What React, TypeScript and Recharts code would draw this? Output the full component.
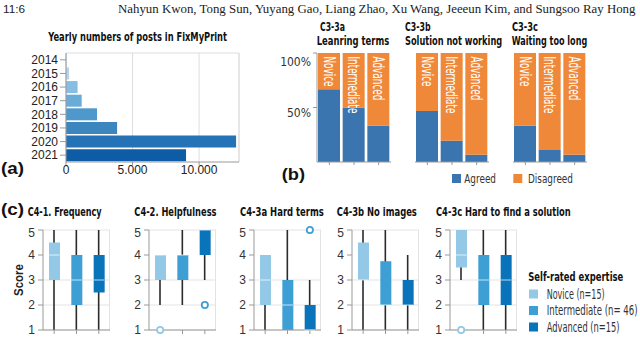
import {
  Bar,
  BarChart,
  CartesianGrid,
  Cell,
  ComposedChart,
  LabelList,
  Scatter,
  XAxis,
  YAxis,
} from 'recharts'

// (a) yearly posts
const YEARS = ['2014', '2015', '2016', '2017', '2018', '2019', '2020', '2021']
const POSTS = [60, 230, 870, 1180, 2330, 3840, 12780, 9020]
const POST_TICKS = [0, 5000, 10000]

// (b) share of "agreed" answers per expertise level
const LEVELS = ['Novice', 'Intermediate', 'Advanced']
const AGREED_TERMS = [0.667, 0.5, 0.333]
const AGREED_SOLUTION = [0.467, 0.196, 0.067]
const AGREED_WAITING = [0.333, 0.109, 0.067]

// (c) box stats per level: [min, q1, median, q3, max]
const FREQUENCY = [[1, 3, 4, 4.5, 5], [1, 2, 3, 4, 5], [1, 2.5, 3, 4, 5]]
const FREQUENCY_OUT = [null, null, null]
const HELPFULNESS = [[2, 3, 4, 4, 4], [2, 3, 4, 4, 5], [3, 4, 5, 5, 5]]
const HELPFULNESS_OUT = [1, null, 2]
const HARD_TERMS = [[1, 2, 3, 4, 4], [1, 1, 2, 3, 5], [1, 1, 1, 2, 3]]
const HARD_TERMS_OUT = [null, null, 5]
const NO_IMAGES = [[1, 3, 3, 4.5, 5], [1, 2, 2, 3.75, 5], [1, 2, 2, 3, 4]]
const NO_IMAGES_OUT = [null, null, null]
const FIND_SOLUTION = [[3, 3.5, 4, 5, 5], [1, 2, 3, 4, 5], [1, 2, 3, 4, 5]]
const FIND_SOLUTION_OUT = [1, null, null]
const SCORE_TICKS = [1, 2, 3, 4, 5]

const YEAR_COLORS = ['#c9e1f3', '#b3d4ed', '#86bde2', '#6aacd8', '#4f98cb', '#3c86c0', '#2473b6', '#0d5ca5']
const LEVEL_COLORS = ['#93c9e7', '#3d9fd4', '#0a74bb']
const OUTLIER_COLORS = ['#93c9e7', '#3d9fd4', '#3d9fd4']
const AGREED_COLOR = '#3b75af'
const DISAGREED_COLOR = '#f0883a'

const COND = "'DejaVu Sans Condensed', sans-serif"
const SANS = "'Liberation Sans', Arial, sans-serif"
const BAR_LABEL_LEN: Record<string, number> = { Novice: 30, Intermediate: 57, Advanced: 44 }

// the reference font is much narrower than anything installed, so squeeze text horizontally
let measureCtx: CanvasRenderingContext2D | null = null
function textWidth(text: string, font: string) {
  if (!measureCtx) measureCtx = document.createElement('canvas').getContext('2d')
  if (!measureCtx) return text.length * 6
  measureCtx.font = font
  return measureCtx.measureText(text).width
}

const postRows = YEARS.map((year, i) => ({ year, posts: POSTS[i] }))

const fmtThousands = (v: number) => String(v).replace(/\B(?=(\d{3})+(?!\d))/g, '.')

function PostsChart() {
  return (
    <div style={{ position: 'absolute', left: 0, top: 45 }}>
      <BarChart
        layout="vertical"
        width={250}
        height={140}
        data={postRows}
        margin={{ top: 8, right: 11, bottom: 3, left: 0 }}
        barCategoryGap="6%"
      >
        <CartesianGrid horizontal={false} stroke="#dddddd" />
        <CartesianGrid
          vertical={false}
          horizontalCoordinatesGenerator={({ offset }: any) => [offset.top]}
          stroke="#dddddd"
        />
        <CartesianGrid
          horizontal={false}
          verticalCoordinatesGenerator={({ offset }: any) => [offset.left + offset.width]}
          stroke="#dddddd"
        />
        <XAxis
          type="number"
          domain={[0, 13000]}
          ticks={POST_TICKS}
          tickFormatter={fmtThousands}
          height={20}
          tickSize={3}
          tickMargin={0}
          stroke="#999"
          tick={{ fill: '#222', fontSize: 12, fontFamily: SANS }}
        />
        <YAxis
          type="category"
          dataKey="year"
          width={66}
          interval={0}
          tickSize={6}
          tickMargin={2}
          stroke="#999"
          tick={{ fill: '#222', fontSize: 12, fontFamily: SANS }}
        />
        <Bar dataKey="posts" isAnimationActive={false}>
          {postRows.map((r, i) => (
            <Cell key={r.year} fill={YEAR_COLORS[i]} />
          ))}
        </Bar>
      </BarChart>
    </div>
  )
}

const PercentTick = ({ x, y, payload }: any) => (
  <text x={x} y={y} dy={9} textAnchor="end" fontSize={12} fill="#333" fontFamily={COND}>
    {Math.round(payload.value * 100)}%
  </text>
)

const RotatedLabel = ({ x, y, width, value }: any) => {
  const sx = BAR_LABEL_LEN[value] / textWidth(value, `normal 15px ${COND}`)
  return (
    <text
      transform={`translate(${x + width / 2},${y + 3.5}) rotate(90) scale(${sx},1)`}
      fill="#fff"
      fontSize={15}
      fontFamily={COND}
      dominantBaseline="central"
    >
      {value}
    </text>
  )
}

function AgreementChart({ agreed, left, showAxis }: { agreed: number[]; left: number; showAxis?: boolean }) {
  const rows = LEVELS.map((level, i) => ({ level, agreed: agreed[i], disagreed: 1 - agreed[i] }))
  const axisW = showAxis ? 47 : 0
  return (
    <div style={{ position: 'absolute', left, top: 48 }}>
      <BarChart
        width={axisW + 74}
        height={124}
        data={rows}
        margin={{ top: 5, right: 0, bottom: 0, left: 0 }}
        barSize={22}
      >
        <XAxis dataKey="level" height={10} tickSize={3} tickFormatter={() => ''} stroke="#999" />
        <YAxis
          hide={!showAxis}
          domain={[0, 1]}
          ticks={[0.5, 1]}
          width={axisW}
          tickSize={4}
          tickMargin={2}
          stroke="#999"
          tick={<PercentTick />}
        />
        <Bar dataKey="agreed" stackId="s" fill={AGREED_COLOR} isAnimationActive={false} />
        <Bar dataKey="disagreed" stackId="s" fill={DISAGREED_COLOR} isAnimationActive={false}>
          <LabelList dataKey="level" content={<RotatedLabel />} />
        </Bar>
      </BarChart>
    </div>
  )
}

const WhiskerShape = (p: any) => {
  const cx = p.x + p.width / 2
  const top = Math.min(p.y, p.y + p.height)
  return <line x1={cx} x2={cx} y1={top} y2={top + Math.abs(p.height)} stroke="#2b2b2b" strokeWidth={1.6} />
}

const MedianShape = (p: any) =>
  p.cy == null || isNaN(p.cy) ? (
    <g />
  ) : (
    <line x1={p.cx - 5.5} x2={p.cx + 5.5} y1={p.cy} y2={p.cy} stroke="rgba(255,255,255,0.7)" strokeWidth={1} />
  )

const OutlierShape = (p: any) => {
  if (p.payload.outlier == null || p.cy == null || isNaN(p.cy)) return <g />
  const i = LEVELS.indexOf(p.payload.name)
  return <circle cx={p.cx} cy={p.cy} r={3.1} fill="#fff" stroke={OUTLIER_COLORS[i]} strokeWidth={1.8} />
}

function ScoreBox({ stats, outliers, left }: { stats: number[][]; outliers: (number | null)[]; left: number }) {
  const rows = LEVELS.map((name, i) => ({
    name,
    whisker: [stats[i][0], stats[i][4]],
    box: [stats[i][1], stats[i][3]],
    median: stats[i][2],
    outlier: outliers[i],
  }))
  return (
    <div style={{ position: 'absolute', left: left - 22, top: 225 }}>
      <ComposedChart width={22 + 67} height={113} data={rows} margin={{ top: 5, right: 0, bottom: 0, left: 0 }}>
        <CartesianGrid xAxisId="b" vertical={false} stroke="#e3e3e3" />
        <CartesianGrid
          xAxisId="b"
          horizontal={false}
          verticalCoordinatesGenerator={({ offset }: any) => [offset.left + offset.width - 0.5]}
          stroke="#e3e3e3"
        />
        <XAxis xAxisId="w" dataKey="name" hide />
        <XAxis
          xAxisId="b"
          dataKey="name"
          height={8}
          tickSize={4}
          tickFormatter={() => ''}
          stroke="#999"
        />
        <YAxis
          type="number"
          domain={[1, 5]}
          ticks={SCORE_TICKS}
          width={22}
          tickSize={5}
          tickMargin={3}
          stroke="#999"
          tick={{ fill: '#333', fontSize: 12, fontFamily: SANS }}
        />
        <Bar xAxisId="w" dataKey="whisker" barSize={2} shape={WhiskerShape} isAnimationActive={false} />
        <Bar xAxisId="b" dataKey="box" barSize={11} isAnimationActive={false}>
          {rows.map((r, i) => (
            <Cell key={r.name} fill={LEVEL_COLORS[i]} />
          ))}
        </Bar>
        <Scatter xAxisId="b" dataKey="median" shape={MedianShape} isAnimationActive={false} />
        <Scatter xAxisId="b" dataKey="outlier" shape={OutlierShape} isAnimationActive={false} />
      </ComposedChart>
    </div>
  )
}

// text squeezed to a target width with a transform, so its box matches what is drawn
const T = ({ x, y, len, size = 12, bold, family = COND, children, fill = '#111' }: any) => {
  const weight = bold ? 'bold' : 'normal'
  const sx = len / textWidth(String(children), `${weight} ${size}px ${family}`)
  return (
    <text
      transform={`translate(${x},${y}) scale(${sx},1)`}
      fontSize={size}
      fontWeight={weight}
      fontFamily={family}
      fill={fill}
    >
      {children}
    </text>
  )
}

function Overlay() {
  const legendRows = [
    { label: 'Novice (n=15)', len: 58 },
    { label: 'Intermediate (n= 46)', len: 91 },
    { label: 'Advanced (n=15)', len: 73 },
  ]
  const scoreSx = 32 / textWidth('Score', `bold 12.5px ${SANS}`)
  return (
    <svg
      width={640}
      height={338}
      style={{ position: 'absolute', left: 0, top: 0, pointerEvents: 'none' }}
    >
      <T x={3} y={13} len={22} size={11} family={SANS} fill="#222">11:6</T>
      <T x={118} y={13} len={519} size={13} family="'Liberation Serif', serif" fill="#222">
        Nahyun Kwon, Tong Sun, Yuyang Gao, Liang Zhao, Xu Wang, Jeeeun Kim, and Sungsoo Ray Hong
      </T>

      <T x={48.3} y={41} len={179} size={12} bold>Yearly numbers of posts in FixMyPrint</T>
      <T x={1} y={174} len={23} size={17} bold family={SANS}>(a)</T>

      <T x={320} y={31} len={25} size={12} bold>C3-3a</T>
      <T x={316.7} y={45} len={72.6} size={13} bold>Leanring terms</T>
      <T x={405} y={31} len={25.6} size={12} bold>C3-3b</T>
      <T x={405} y={45} len={97.3} size={13} bold>Solution not working</T>
      <T x={512} y={31} len={26} size={12} bold>C3-3c</T>
      <T x={511.7} y={45} len={75.6} size={13} bold>Waiting too long</T>
      <T x={281.7} y={180} len={23.3} size={17} bold family={SANS}>(b)</T>
      <rect x={452} y={174} width={9} height={9} fill={AGREED_COLOR} />
      <T x={464.3} y={182.5} len={31.7} size={13} fill="#333">Agreed</T>
      <rect x={513.3} y={174} width={9} height={9} fill={DISAGREED_COLOR} />
      <T x={528} y={182.5} len={45} size={13} fill="#333">Disagreed</T>

      <T x={1} y={215} len={23} size={17} bold family={SANS}>(c)</T>
      <T x={27.7} y={215.5} len={74} size={12} bold>C4-1. Frequency</T>
      <T x={134.3} y={215.5} len={82.4} size={12} bold>C4-2. Helpfulness</T>
      <T x={240} y={215.5} len={84} size={12} bold>C4-3a Hard terms</T>
      <T x={336.7} y={215.5} len={80.3} size={12} bold>C4-3b No images</T>
      <T x={436} y={215.5} len={134.7} size={12} bold>C4-3c Hard to find a solution</T>
      <text
        transform={`translate(22.5,280) rotate(-90) scale(${scoreSx},1)`}
        textAnchor="middle"
        fontSize={12.5}
        fontWeight="bold"
        fontFamily={SANS}
        fill="#222"
      >
        Score
      </text>

      <T x={528.3} y={281} len={95} size={13} bold>Self-rated expertise</T>
      {legendRows.map((r, i) => (
        <g key={r.label}>
          <rect x={529} y={289.5 + i * 16.5} width={9} height={9} fill={LEVEL_COLORS[i]} />
          <T x={546.7} y={298.5 + i * 16.5} len={r.len} size={13.5} fill="#333">{r.label}</T>
        </g>
      ))}
    </svg>
  )
}

export default function App() {
  return (
    <div style={{ position: 'absolute', left: 0, top: 0, width: 640, height: 338, background: '#fff' }}>
      <PostsChart />
      <AgreementChart agreed={AGREED_TERMS} left={270} showAxis />
      <AgreementChart agreed={AGREED_SOLUTION} left={415.2} />
      <AgreementChart agreed={AGREED_WAITING} left={512.8} />
      <ScoreBox stats={FREQUENCY} outliers={FREQUENCY_OUT} left={42.7} />
      <ScoreBox stats={HELPFULNESS} outliers={HELPFULNESS_OUT} left={148.9} />
      <ScoreBox stats={HARD_TERMS} outliers={HARD_TERMS_OUT} left={254} />
      <ScoreBox stats={NO_IMAGES} outliers={NO_IMAGES_OUT} left={352} />
      <ScoreBox stats={FIND_SOLUTION} outliers={FIND_SOLUTION_OUT} left={449.8} />
      <Overlay />
    </div>
  )
}
